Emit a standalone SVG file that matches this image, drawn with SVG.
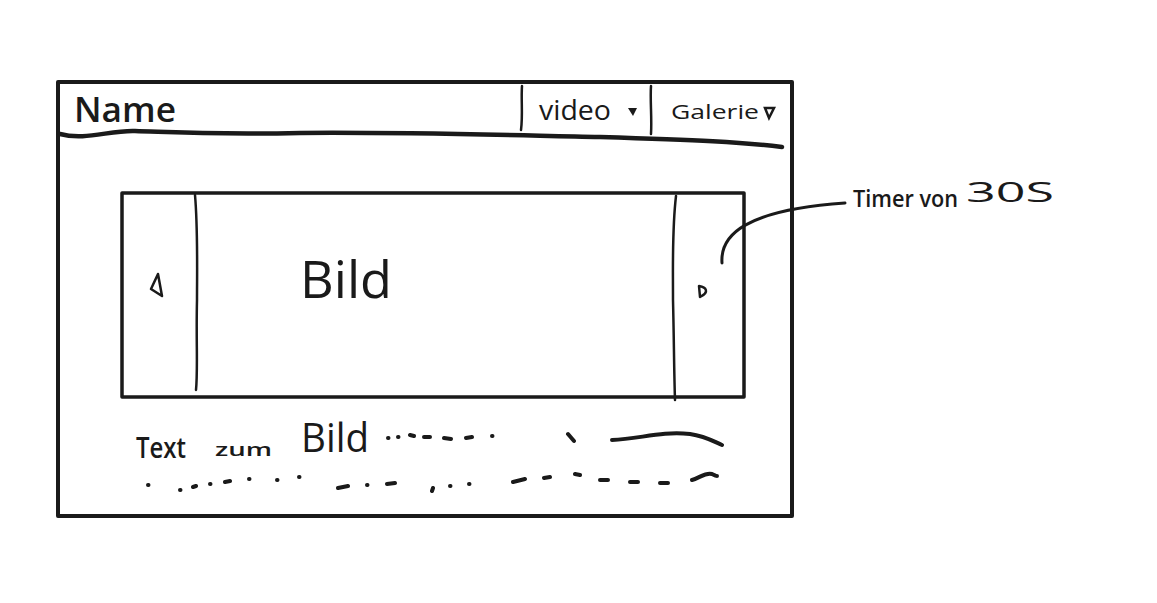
<svg xmlns="http://www.w3.org/2000/svg" width="1157" height="603" viewBox="0 0 1157 603">
<style>
.ln{fill:none;stroke:#1a1a1a;stroke-linecap:round;stroke-linejoin:round}
.t{fill:#1a1a1a;font-family:"Open Sans","Liberation Sans",sans-serif}
.d{fill:none;stroke:#1a1a1a;stroke-width:4;stroke-linecap:round}
</style>
<rect width="1157" height="603" fill="#fff"/>
<g id="frame">
<rect x="58" y="82" width="734" height="434" class="ln" stroke-width="4"/>
</g>
<g id="header">
<path class="ln" stroke-width="4.5" d="M60,134 C85,141 110,130 135,131 C170,132 210,135 300,133 C400,132 500,135 600,137 C700,140 740,142 782,147"/>
<path class="ln" stroke-width="2.5" d="M522,86 C521,100 523,115 521,130"/>
<path class="ln" stroke-width="2.5" d="M651,86 C650,100 652,118 651,134"/>
<text class="t" x="74" y="122" font-size="34" textLength="102" lengthAdjust="spacingAndGlyphs" font-weight="600">Name</text>
<text class="t" x="539" y="120" font-size="28" textLength="72" lengthAdjust="spacingAndGlyphs">video</text>
<path d="M628,108 L637,108 L633,116 Z" fill="#1a1a1a"/>
<text class="t" x="671" y="119" font-size="20" textLength="88" lengthAdjust="spacingAndGlyphs">Galerie</text>
<path d="M765,108 L774,108 L769,118 Z" fill="none" stroke="#1a1a1a" stroke-width="2.5"/>
</g>
<g id="slider">
<rect x="122" y="193" width="622" height="204" class="ln" stroke-width="3.5"/>
<path class="ln" stroke-width="2.5" d="M195,195 C198,230 197,270 197,300 C196,340 198,370 196,390"/>
<path class="ln" stroke-width="2.5" d="M676,196 C672,230 673,260 673,300 C674,340 674,370 675,400"/>
<path class="ln" stroke-width="2.5" d="M158,274 L151,289 L162,296 Z"/>
<path class="ln" stroke-width="2.5" d="M699,286 C706,287 710,292 700,297 Z"/>
<text class="t" x="300" y="298" font-size="52" textLength="92" lengthAdjust="spacingAndGlyphs">Bild</text>
</g>
<g id="caption">
<text class="t" x="136" y="458" font-size="28" font-weight="600" textLength="50" lengthAdjust="spacingAndGlyphs">Text</text>
<text class="t" x="215" y="456" font-size="18" font-weight="600" textLength="57" lengthAdjust="spacingAndGlyphs">zum</text>
<text class="t" x="301" y="452" font-size="40" textLength="68" lengthAdjust="spacingAndGlyphs">Bild</text>
<path class="d" d="M388,438 l0.5,0 M398,437 l0.5,0 M410,435 l4,1 M424,437 l6,0 M444,438 l7,1 M466,438 l6,-1 M492,436 l0.5,0 M568,434 l6,7 M612,440 C640,439 660,431 690,434 C705,436 715,442 722,445"/>
<path class="d" d="M148,485 l0.5,0 M180,490 l0.5,0 M193,487 l3,-1 M210,484 l0.5,0 M225,482 l5,-1 M249,479 l0.5,0 M277,480 l0.5,0 M299,477 l0.5,0 M338,488 l10,-2 M367,485 l0.5,0 M387,484 l8,-1 M432,491 l1,-3 M450,486 l0.5,0 M469,484 l0.5,0 M513,482 l12,-3 M544,478 l6,-1 M575,474 l5,1 M600,480 l8,0 M630,482 l8,0 M660,483 l8,0 M692,480 C700,478 705,472 712,474 C714,475 716,476 717,476"/>
</g>
<g id="connectors">
<path class="ln" stroke-width="3" d="M722,263 C720,235 745,210 845,203"/>
</g>
<g id="timer-note">
<text class="t" x="853" y="207" font-size="24" font-weight="600" textLength="105" lengthAdjust="spacingAndGlyphs">Timer von</text>
<text class="t" x="966" y="202" font-size="28" textLength="88" lengthAdjust="spacingAndGlyphs">30S</text>
</g>
</svg>
